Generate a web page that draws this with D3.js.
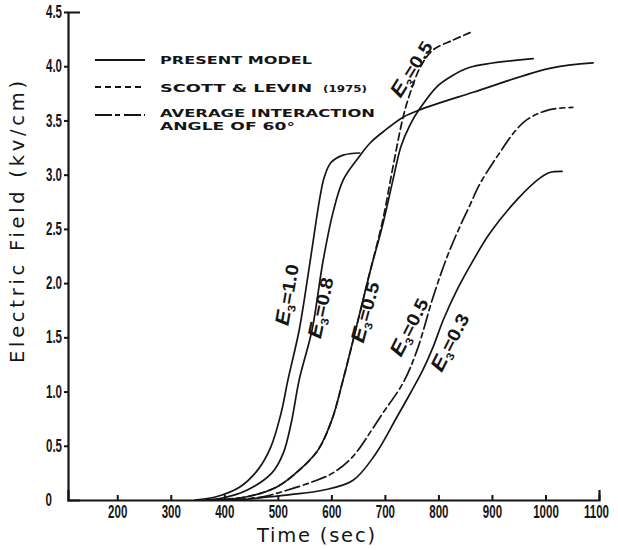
<!DOCTYPE html>
<html><head><meta charset="utf-8">
<script src="https://cdn.jsdelivr.net/npm/d3@7"></script>
<style>body{margin:0;background:#fff}svg{display:block}</style>
</head><body><svg id="c" width="618" height="550"></svg>
<script>
// ---------- data ----------
const xTicks = [200,300,400,500,600,700,800,900,1000,1100];
const xTickLabels = ["200","300","400","500","600","700","800","900","1000","1100"];
const yTicks = [0,0.5,1.0,1.5,2.0,2.5,3.0,3.5,4.0,4.5];
const yTickLabels = ["0","0.5","1.0","1.5","2.0","2.5","3.0","3.5","4.0","4.5"];

// Present model, E3 = 1.0
const e10Time  = [345,385,429,463,487,506,519,540,560,579,587,599,622,653];
const e10Field = [0,0.03,0.12,0.28,0.49,0.80,1.11,1.57,2.19,2.80,2.98,3.11,3.18,3.20];
// Present model, E3 = 0.8
const e08Time  = [364,398,442,489,510,525,540,564,584,603,622,648,672,698,734,766,865,1008,1089];
const e08Field = [0,0.02,0.09,0.25,0.43,0.71,1.11,1.57,2.19,2.65,2.95,3.14,3.29,3.40,3.53,3.60,3.76,3.98,4.03];
// Present model, E3 = 0.5
const e05Time  = [383,442,498,541,575,601,622,652,672,696,715,730,747,764,797,822,859,977];
const e05Field = [0,0.03,0.12,0.28,0.46,0.74,1.11,1.70,2.10,2.54,2.95,3.26,3.46,3.60,3.81,3.90,3.99,4.07];
// Scott & Levin (1975), E3 = 0.5
const slTime  = [383,442,498,541,575,601,622,652,672,696,715,734,747,766,790,827,859];
const slField = [0,0.03,0.12,0.28,0.46,0.74,1.11,1.70,2.10,2.58,3.07,3.53,3.75,3.99,4.15,4.24,4.31];
// Average interaction angle of 60°, E3 = 0.5
const avTime  = [411,472,517,566,603,640,676,696,734,760,790,816,840,859,878,921,943,966,1008,1051];
const avField = [0,0.03,0.09,0.17,0.25,0.40,0.65,0.80,1.08,1.38,1.87,2.24,2.52,2.72,2.92,3.25,3.40,3.51,3.60,3.62];
// Present model, E3 = 0.3
const e03Time  = [429,467,523,584,640,682,723,747,771,790,809,835,865,896,947,990,1008,1031];
const e03Field = [0,0.02,0.05,0.09,0.18,0.42,0.77,0.98,1.20,1.41,1.66,1.94,2.21,2.46,2.77,2.97,3.02,3.03];

// curve labels (E3 values) and where they sit in data space
const curveLabelValues = ["1.0","0.8","0.5","0.5","0.3","0.5"];
const curveLabelTime   = [519,582,665,747,823,751];
const curveLabelField  = [1.89,1.77,1.73,1.59,1.45,3.97];
const curveLabelAngle  = [-80,-78,-75,-63,-63,-58];

const legendLabels = ["PRESENT MODEL","SCOTT  &  LEVIN","AVERAGE INTERACTION"];

// ---------- drawing ----------
const ink = "#151515";
const svg = d3.select("#c");
const x = d3.scaleLinear().domain([108,1100]).range([68,599]);
const y = d3.scaleLinear().domain([0,4.5]).range([500,12]);

const condFont = "'Liberation Sans', Arial, sans-serif";
const squeeze = 0.66;

// x axis
const gx = svg.append("g").attr("transform",`translate(0,${y(0)})`)
  .call(d3.axisBottom(x).tickValues(xTicks).tickFormat((d,i)=>xTickLabels[i])
        .tickSizeInner(-5).tickSizeOuter(-10).tickPadding(6));
// y axis
const gy = svg.append("g").attr("transform",`translate(${x(108)},0)`)
  .call(d3.axisLeft(y).tickValues(yTicks).tickFormat((d,i)=>yTickLabels[i])
        .tickSizeInner(4).tickSizeOuter(-12).tickPadding(2));

[gx,gy].forEach(g=>{
  g.select(".domain").attr("stroke",ink).attr("stroke-width",2.2);
  g.selectAll(".tick line").attr("stroke",ink).attr("stroke-width",2);
  g.selectAll(".tick text").attr("fill",ink).attr("font-family",condFont)
    .attr("font-weight","bold").attr("font-size",17.5)
    .attr("transform",`scale(${squeeze},1)`);
});
gy.selectAll(".tick text").attr("x",-6/squeeze);
gy.selectAll(".tick").filter(d=>d===0).select("text").attr("x",-16/squeeze);
gy.selectAll(".tick").filter(d=>d===0).select("line").remove();
gx.selectAll(".tick").filter(d=>d===1100).select("text").attr("x",-3/squeeze);

// axis titles
svg.append("text").attr("transform","translate(24,222) rotate(-90)")
  .attr("text-anchor","middle").attr("font-family","'DejaVu Sans', sans-serif")
  .attr("font-size",19.5).attr("fill",ink)
  .attr("textLength",282).attr("lengthAdjust","spacing")
  .text("Electric Field (kv/cm)");
svg.append("text").attr("x",316).attr("y",542)
  .attr("text-anchor","middle").attr("font-family","'DejaVu Sans', sans-serif")
  .attr("font-size",19.5).attr("fill",ink)
  .attr("textLength",118).attr("lengthAdjust","spacing")
  .text("Time (sec)");

// curves
const series = [
  {t:e10Time, v:e10Field, dash:null},
  {t:e08Time, v:e08Field, dash:null},
  {t:e05Time, v:e05Field, dash:null},
  {t:slTime,  v:slField,  dash:"7,4"},
  {t:avTime,  v:avField,  dash:"15,4,5,4"},
  {t:e03Time, v:e03Field, dash:null}
];
const line = d3.line().x(d=>x(d[0])).y(d=>y(d[1])).curve(d3.curveCatmullRom.alpha(0.5));
series.forEach(s=>{
  svg.append("path").datum(d3.zip(s.t,s.v))
    .attr("d",line).attr("fill","none").attr("stroke",ink)
    .attr("stroke-width",1.7).attr("stroke-linecap","round")
    .attr("stroke-dasharray",s.dash);
});

// curve labels
curveLabelValues.forEach((val,i)=>{
  const g = svg.append("g")
    .attr("transform",`translate(${x(curveLabelTime[i])},${y(curveLabelField[i])}) rotate(${curveLabelAngle[i]})`);
  const t = g.append("text").attr("text-anchor","middle").attr("dy","0.35em")
    .attr("font-family",condFont).attr("font-weight","bold")
    .attr("fill",ink);
  t.append("tspan").attr("font-size",20).attr("font-style","italic").text("E");
  t.append("tspan").attr("font-size",11).attr("dy",4).text("3");
  t.append("tspan").attr("font-size",18).attr("dy",-4).text("=" + val);
  t.attr("textLength", 62).attr("lengthAdjust","spacingAndGlyphs");
});

// legend
const legX0 = 95, legX1 = 145, legTx = 160;
const legRows = [
  {ly:60, ty:64, dash:null},
  {ly:87, ty:92, dash:"6,4"},
  {ly:115, ty:117, dash:"17,3,5,4"}
];
const legFont = "'DejaVu Sans', sans-serif";
legRows.forEach((r,i)=>{
  svg.append("line").attr("x1",legX0).attr("x2",legX1).attr("y1",r.ly).attr("y2",r.ly)
    .attr("stroke",ink).attr("stroke-width",2).attr("stroke-dasharray",r.dash);
});
const legLens = [152,152,215];
legendLabels.forEach((s,i)=>{
  svg.append("text").attr("x",legTx).attr("y",legRows[i].ty)
    .attr("font-family",legFont).attr("font-weight","bold").attr("font-size",11)
    .attr("fill",ink).attr("textLength",legLens[i]).attr("lengthAdjust","spacingAndGlyphs")
    .text(s);
});
svg.append("text").attr("x",323).attr("y",92)
  .attr("font-family",legFont).attr("font-weight","bold").attr("font-size",9)
  .attr("fill",ink).attr("textLength",44).attr("lengthAdjust","spacingAndGlyphs")
  .text("(1975)");
svg.append("text").attr("x",legTx).attr("y",130)
  .attr("font-family",legFont).attr("font-weight","bold").attr("font-size",11)
  .attr("fill",ink).attr("textLength",135).attr("lengthAdjust","spacingAndGlyphs")
  .text("ANGLE OF 60°");
</script>
</body></html>
